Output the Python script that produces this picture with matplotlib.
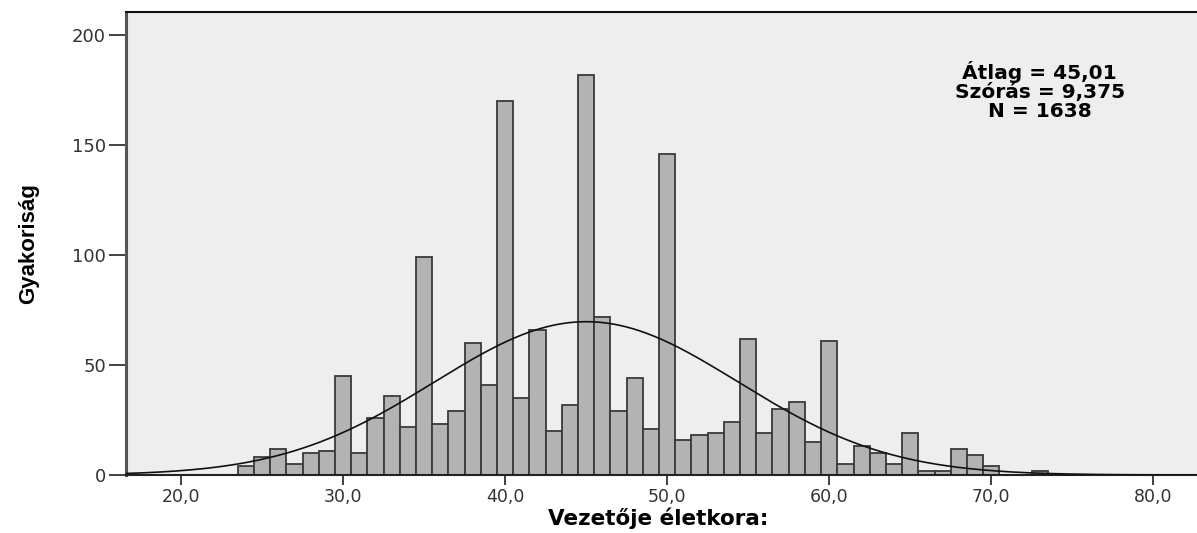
import matplotlib
matplotlib.use("Agg")
import matplotlib.pyplot as plt
import numpy as np

# eletkor (ev) es gyakorisag
ages = [24, 25, 26, 27, 28, 29, 30, 31, 32, 33, 34, 35, 36, 37, 38, 39,
        40, 41, 42, 43, 44, 45, 46, 47, 48, 49, 50, 51, 52, 53, 54, 55,
        56, 57, 58, 59, 60, 61, 62, 63, 64, 65, 66, 67, 68, 69, 70, 71,
        72, 73]
counts = [4, 8, 12, 5, 10, 11, 45, 10, 26, 36, 22, 99, 23, 29, 60, 41,
          170, 35, 66, 20, 32, 182, 72, 29, 44, 21, 146, 16, 18, 19, 24, 62,
          19, 30, 33, 15, 61, 5, 13, 10, 5, 19, 2, 2, 12, 9, 4, 0,
          0, 2]

mean_age = 45.01
std_age = 9.375
n_total = 1638

x_ticks = [20, 30, 40, 50, 60, 70, 80]
x_tick_labels = ["20,0", "30,0", "40,0", "50,0", "60,0", "70,0", "80,0"]
y_ticks = [0, 50, 100, 150, 200]

stats_text = "Átlag = 45,01\nSzórás = 9,375\nN = 1638"

if __name__ == "__main__":
    fig = plt.figure(figsize=(11.97, 5.33), dpi=100)
    ax = fig.add_axes([126 / 1197, 58 / 533, 1071 / 1197, 463 / 533])
    ax.set_facecolor("#EEEEEE")

    ax.bar(ages, counts, width=1.0, color="#B3B3B3", edgecolor="#3A3A3A",
           linewidth=1.3, zorder=2)

    xmin, xmax = 16.6, 82.7
    xs = np.linspace(xmin, xmax, 400)
    # normalgorbe a leiro statisztikakbol
    pdf = np.exp(-0.5 * ((xs - mean_age) / std_age) ** 2) / (std_age * np.sqrt(2 * np.pi))
    ax.plot(xs, n_total * pdf, color="#111111", linewidth=1.2, zorder=3)

    ax.set_xlim(xmin, xmax)
    ax.set_ylim(0, 210.5)

    ax.set_xticks(x_ticks)
    ax.set_xticklabels(x_tick_labels)
    ax.set_yticks(y_ticks)
    ax.tick_params(axis="x", length=7, width=1.3, color="#333333",
                   labelsize=12.5, labelcolor="#333333", pad=2)
    ax.tick_params(axis="y", length=12.5, width=1.3, color="#333333",
                   labelsize=13, labelcolor="#333333", pad=2)

    ax.spines["right"].set_visible(False)
    ax.spines["left"].set_linewidth(2.2)
    ax.spines["left"].set_color("#555555")
    ax.spines["bottom"].set_linewidth(1.5)
    ax.spines["bottom"].set_color("#222222")
    ax.spines["top"].set_linewidth(1.5)
    ax.spines["top"].set_color("#111111")

    ax.set_ylabel("Gyakoriság", family="Liberation Sans", fontsize=16,
                  fontweight="bold")
    ax.yaxis.set_label_coords(-0.081, 0.5)
    ax.set_xlabel("Vezetője életkora:", fontsize=15.5, fontweight="bold")
    ax.xaxis.set_label_coords(0.497, -0.07)

    ax.text(0.853, 0.829, stats_text, transform=ax.transAxes, ha="center",
            va="center", fontsize=14.5, fontweight="bold", linespacing=1.0)

    fig.savefig("out.png", dpi=100)
